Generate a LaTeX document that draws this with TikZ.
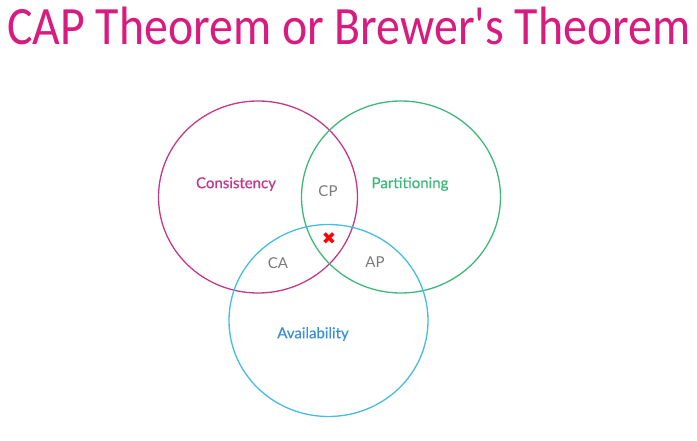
\documentclass[tikz,border=0pt]{standalone}
\usepackage{fontspec}
\setmainfont{Lato}
\newfontfamily\titlefont{Carlito}
\newfontfamily\lblfont[FakeBold=0.6]{Lato}
\newfontfamily\symfont{DejaVu Sans}
\definecolor{cmag}{HTML}{C2388A}
\definecolor{cgreen}{HTML}{3DB878}
\definecolor{cblue}{HTML}{45BCE0}
\definecolor{tmag}{HTML}{D81B7E}
\definecolor{lblue}{HTML}{3C8FDA}
\definecolor{lgray}{HTML}{7A7A7A}
\begin{document}
\begin{tikzpicture}[x=1pt,y=-1pt,
  ring/.style={line width=1.3pt},
  lbl/.style={font=\lblfont\fontsize{15}{17}\selectfont, inner sep=0pt},
  reg/.style={font=\fontsize{15}{17}\selectfont, text=lgray, inner sep=0pt}]
\useasboundingbox (0,0) rectangle (697,441);
\node[anchor=base west, inner sep=0pt, text=tmag, font=\titlefont\fontsize{54}{60}\selectfont] (title) at (7,45) {\resizebox{683pt}{\height}{CAP Theorem or Brewer's Theorem}};
\draw[ring, cmag] (258,197) ellipse [x radius=99.5, y radius=96];
\draw[ring, cgreen] (401,197) ellipse [x radius=99.5, y radius=96];
\draw[ring, cblue] (328.5,320.5) ellipse [x radius=99.5, y radius=96];
\node[lbl, text=cmag] (cons) at (236,184) {Consistency};
\node[lbl, text=cgreen] (part) at (410,184) {Partitioning};
\node[lbl, text=lblue] (avail) at (313,334) {Availability};
\node[reg] (cp) at (328,191) {CP};
\node[reg] (ca) at (278,263) {CA};
\node[reg] (ap) at (375,262) {AP};
\node[inner sep=0pt, text=red, font=\symfont\fontsize{17}{17}\selectfont] (x) at (329,239) {✖};
\end{tikzpicture}
\end{document}
